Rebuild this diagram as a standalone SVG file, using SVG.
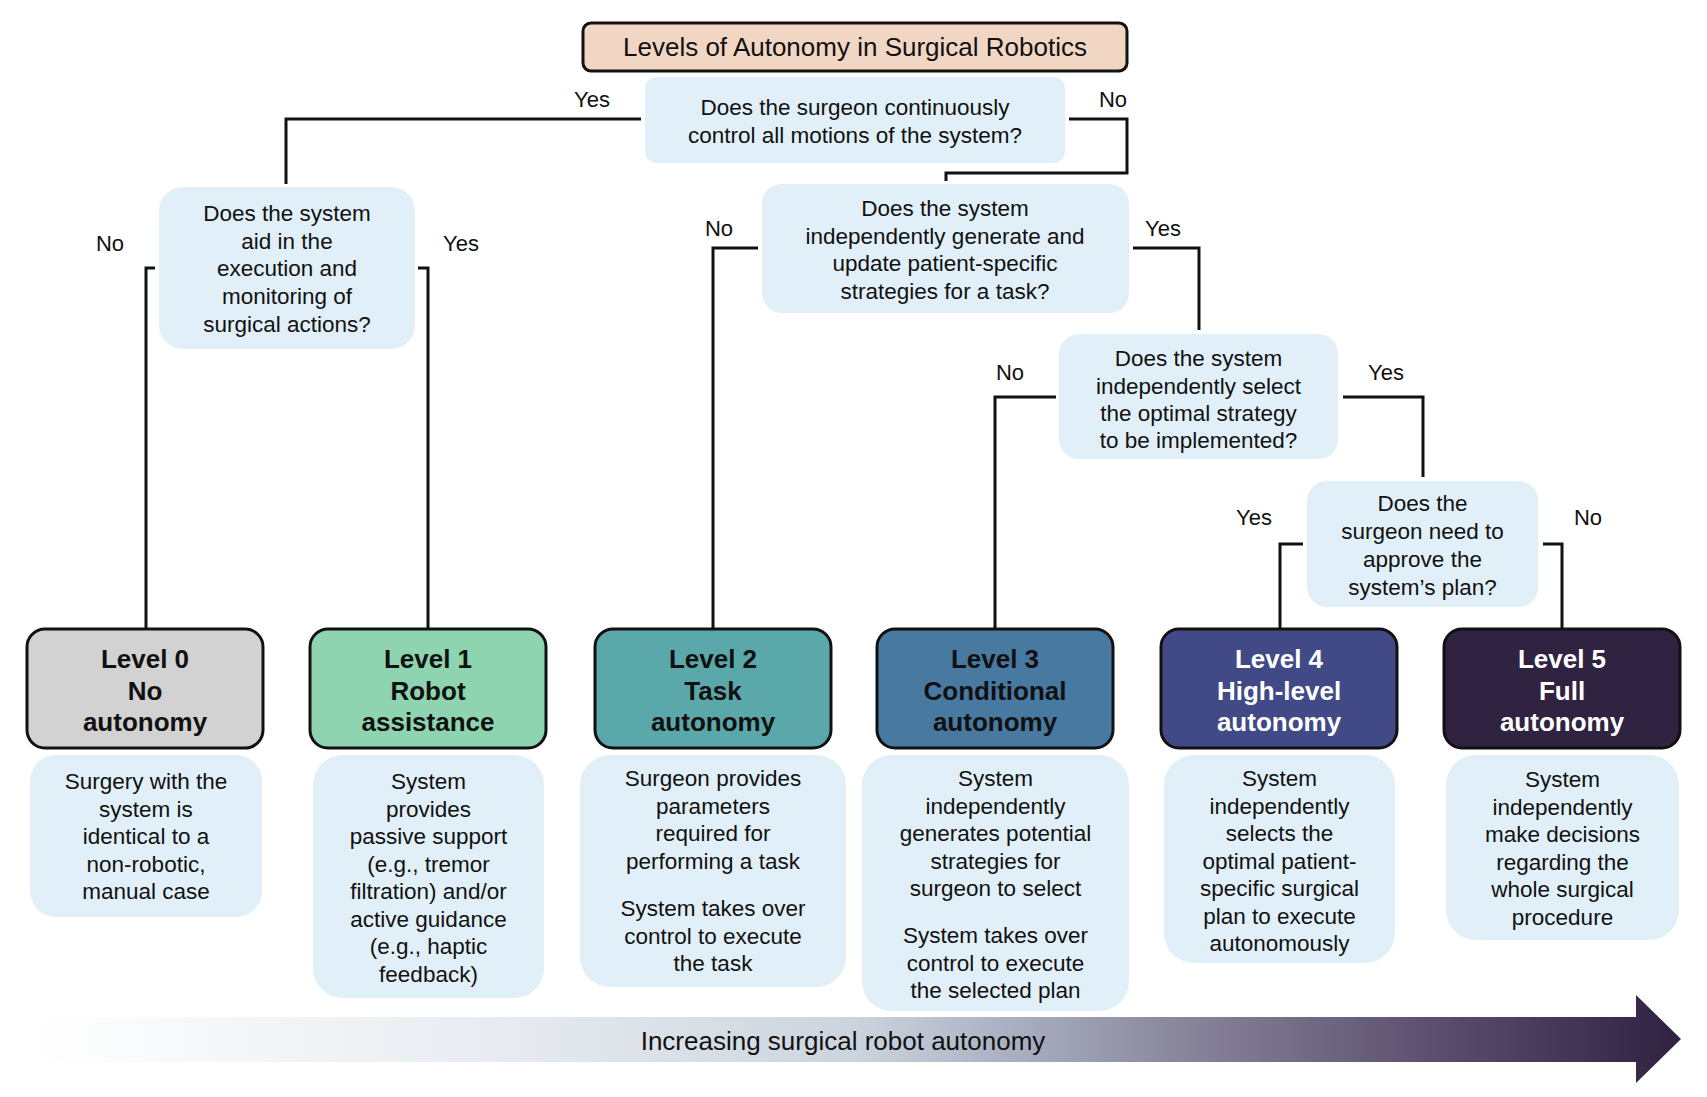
<svg xmlns="http://www.w3.org/2000/svg" width="1707" height="1097" viewBox="0 0 1707 1097">
<style>
text{font-family:"Liberation Sans",Arial,sans-serif;fill:#111;text-anchor:middle}
.q{fill:#e1f0f8}
.t{font-size:22.5px}
.lab{font-size:22px}
.lv{stroke:#111;stroke-width:3}
.lt{font-size:26px;font-weight:bold}
.w{fill:#fff}
.c{fill:none;stroke:#111;stroke-width:3}
</style>
<defs>
<linearGradient id="g" x1="30" y1="0" x2="1682" y2="0" gradientUnits="userSpaceOnUse">
<stop offset="0" stop-color="#ffffff"/>
<stop offset="0.3" stop-color="#e6eaef"/>
<stop offset="0.5" stop-color="#cbd4de"/>
<stop offset="0.6" stop-color="#a8adbf"/>
<stop offset="0.72" stop-color="#827d94"/>
<stop offset="0.85" stop-color="#5b4f6d"/>
<stop offset="1" stop-color="#2e2240"/>
</linearGradient>
</defs>

<g id="title">
<rect x="583" y="23" width="544" height="48" rx="8" fill="#f2d6c4" stroke="#111" stroke-width="3"/>
<text x="855" y="56" style="font-size:26px">Levels of Autonomy in Surgical Robotics</text>
</g>

<g id="connectors">
<path class="c" d="M641,119 H286 V184"/>
<path class="c" d="M1069,119 H1127 V173 H946 V181"/>
<path class="c" d="M155,268 H146 V629"/>
<path class="c" d="M418,268 H428 V629"/>
<path class="c" d="M758,248 H713 V629"/>
<path class="c" d="M1133,248 H1199 V330"/>
<path class="c" d="M1056,397 H995 V629"/>
<path class="c" d="M1343,397 H1423 V477"/>
<path class="c" d="M1303,544 H1280 V629"/>
<path class="c" d="M1543,544 H1562 V629"/>
<text class="lab" x="592" y="107">Yes</text>
<text class="lab" x="1113" y="107">No</text>
<text class="lab" x="110" y="251">No</text>
<text class="lab" x="461" y="251">Yes</text>
<text class="lab" x="719" y="236">No</text>
<text class="lab" x="1163" y="236">Yes</text>
<text class="lab" x="1010" y="380">No</text>
<text class="lab" x="1386" y="380">Yes</text>
<text class="lab" x="1254" y="525">Yes</text>
<text class="lab" x="1588" y="525">No</text>
</g>

<g id="q1">
<rect class="q" x="645" y="77" width="420" height="86" rx="12"/>
<text class="t" x="855" y="115">Does the surgeon continuously</text>
<text class="t" x="855" y="143">control all motions of the system?</text>
</g>
<g id="q2">
<rect class="q" x="159" y="187" width="256" height="162" rx="24"/>
<text class="t" x="287" y="221">Does the system</text>
<text class="t" x="287" y="248.7">aid in the</text>
<text class="t" x="287" y="276.4">execution and</text>
<text class="t" x="287" y="304.1">monitoring of</text>
<text class="t" x="287" y="331.8">surgical actions?</text>
</g>
<g id="q3">
<rect class="q" x="762" y="184" width="367" height="129" rx="20"/>
<text class="t" x="945" y="216">Does the system</text>
<text class="t" x="945" y="244">independently generate and</text>
<text class="t" x="945" y="271">update patient-specific</text>
<text class="t" x="945" y="299">strategies for a task?</text>
</g>
<g id="q4">
<rect class="q" x="1059" y="334" width="279" height="125" rx="20"/>
<text class="t" x="1198.5" y="366">Does the system</text>
<text class="t" x="1198.5" y="394">independently select</text>
<text class="t" x="1198.5" y="421">the optimal strategy</text>
<text class="t" x="1198.5" y="448">to be implemented?</text>
</g>
<g id="q5">
<rect class="q" x="1307" y="481" width="231" height="126" rx="20"/>
<text class="t" x="1422.5" y="511">Does the</text>
<text class="t" x="1422.5" y="539">surgeon need to</text>
<text class="t" x="1422.5" y="567">approve the</text>
<text class="t" x="1422.5" y="595">system’s plan?</text>
</g>

<g id="level0">
<rect class="lv" x="27" y="629" width="236" height="119" rx="18" fill="#d2d2d2"/>
<text class="lt" x="145" y="668">Level 0</text>
<text class="lt" x="145" y="700">No</text>
<text class="lt" x="145" y="731">autonomy</text>
</g>
<g id="level1">
<rect class="lv" x="310" y="629" width="236" height="119" rx="18" fill="#8fd4b0"/>
<text class="lt" x="428" y="668">Level 1</text>
<text class="lt" x="428" y="700">Robot</text>
<text class="lt" x="428" y="731">assistance</text>
</g>
<g id="level2">
<rect class="lv" x="595" y="629" width="236" height="119" rx="18" fill="#5aa8a9"/>
<text class="lt" x="713" y="668">Level 2</text>
<text class="lt" x="713" y="700">Task</text>
<text class="lt" x="713" y="731">autonomy</text>
</g>
<g id="level3">
<rect class="lv" x="877" y="629" width="236" height="119" rx="18" fill="#4879a0"/>
<text class="lt" x="995" y="668">Level 3</text>
<text class="lt" x="995" y="700">Conditional</text>
<text class="lt" x="995" y="731">autonomy</text>
</g>
<g id="level4">
<rect class="lv" x="1161" y="629" width="236" height="119" rx="18" fill="#414a87"/>
<text class="lt w" x="1279" y="668">Level 4</text>
<text class="lt w" x="1279" y="700">High-level</text>
<text class="lt w" x="1279" y="731">autonomy</text>
</g>
<g id="level5">
<rect class="lv" x="1444" y="629" width="236" height="119" rx="18" fill="#302342"/>
<text class="lt w" x="1562" y="668">Level 5</text>
<text class="lt w" x="1562" y="700">Full</text>
<text class="lt w" x="1562" y="731">autonomy</text>
</g>

<g id="desc0">
<rect class="q" x="30" y="755" width="232" height="162" rx="26"/>
<text class="t" x="146" y="789">Surgery with the</text>
<text class="t" x="146" y="816.5">system is</text>
<text class="t" x="146" y="844">identical to a</text>
<text class="t" x="146" y="871.5">non-robotic,</text>
<text class="t" x="146" y="899">manual case</text>
</g>
<g id="desc1">
<rect class="q" x="313" y="755" width="231" height="243" rx="30"/>
<text class="t" x="428.5" y="789">System</text>
<text class="t" x="428.5" y="816.5">provides</text>
<text class="t" x="428.5" y="844">passive support</text>
<text class="t" x="428.5" y="871.5">(e.g., tremor</text>
<text class="t" x="428.5" y="899">filtration) and/or</text>
<text class="t" x="428.5" y="926.5">active guidance</text>
<text class="t" x="428.5" y="954">(e.g., haptic</text>
<text class="t" x="428.5" y="981.5">feedback)</text>
</g>
<g id="desc2">
<rect class="q" x="580" y="755" width="266" height="232" rx="30"/>
<text class="t" x="713" y="786">Surgeon provides</text>
<text class="t" x="713" y="813.5">parameters</text>
<text class="t" x="713" y="841">required for</text>
<text class="t" x="713" y="868.5">performing a task</text>
<text class="t" x="713" y="916">System takes over</text>
<text class="t" x="713" y="943.5">control to execute</text>
<text class="t" x="713" y="971">the task</text>
</g>
<g id="desc3">
<rect class="q" x="862" y="755" width="267" height="256" rx="30"/>
<text class="t" x="995.5" y="786">System</text>
<text class="t" x="995.5" y="813.5">independently</text>
<text class="t" x="995.5" y="841">generates potential</text>
<text class="t" x="995.5" y="868.5">strategies for</text>
<text class="t" x="995.5" y="896">surgeon to select</text>
<text class="t" x="995.5" y="943">System takes over</text>
<text class="t" x="995.5" y="970.5">control to execute</text>
<text class="t" x="995.5" y="998">the selected plan</text>
</g>
<g id="desc4">
<rect class="q" x="1164" y="755" width="231" height="208" rx="30"/>
<text class="t" x="1279.5" y="786">System</text>
<text class="t" x="1279.5" y="813.5">independently</text>
<text class="t" x="1279.5" y="841">selects the</text>
<text class="t" x="1279.5" y="868.5">optimal patient-</text>
<text class="t" x="1279.5" y="896">specific surgical</text>
<text class="t" x="1279.5" y="923.5">plan to execute</text>
<text class="t" x="1279.5" y="951">autonomously</text>
</g>
<g id="desc5">
<rect class="q" x="1446" y="755" width="233" height="185" rx="30"/>
<text class="t" x="1562.5" y="787">System</text>
<text class="t" x="1562.5" y="814.5">independently</text>
<text class="t" x="1562.5" y="842">make decisions</text>
<text class="t" x="1562.5" y="869.5">regarding the</text>
<text class="t" x="1562.5" y="897">whole surgical</text>
<text class="t" x="1562.5" y="924.5">procedure</text>
</g>

<g id="autonomy-arrow">
<path d="M30,1017 H1636 V995 L1681,1039 L1636,1083 V1062 H30 Z" fill="url(#g)"/>
<text x="843" y="1050" style="font-size:26px">Increasing surgical robot autonomy</text>
</g>
</svg>
